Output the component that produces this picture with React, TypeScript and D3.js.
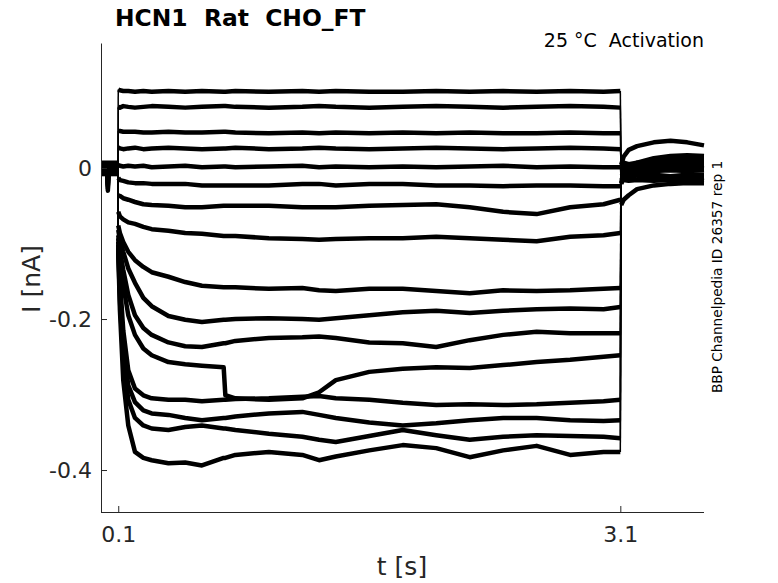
import * as React from 'react';
import { useEffect, useRef } from 'react';
import * as d3 from 'd3';

// time bases [s]
const preT = [0, 0.034, 0.038, 0.042, 0.099];
const stepT = [0.1, 0.11, 0.13, 0.16, 0.2, 0.25, 0.3, 0.4, 0.5, 0.6, 0.73, 0.74, 0.8, 1.0, 1.2, 1.3, 1.4, 1.6, 1.8, 2.0, 2.2, 2.4, 2.6, 2.8, 3.0, 3.1];
const tailT = [3.105, 3.12, 3.15, 3.2, 3.3, 3.4, 3.5, 3.6];

// holding current and capacitive artifact before the step [nA]
const holdI = [0.004, -0.002, 0.006, -0.006, 0.001, -0.004, 0.007, -0.008, 0.003, -0.001, 0.005, -0.005, 0.002, -0.003, 0.006, -0.007];
const artifactI = [-0.030, -0.020, -0.010, -0.024, 0.001, -0.016, 0.007, -0.008, -0.027, -0.001, 0.005, -0.005, -0.022, -0.003, 0.006, -0.007];

// current during the voltage step [nA], one row per sweep
const stepI: number[][] = [
  [0.104, 0.103, 0.102, 0.102, 0.101, 0.102, 0.101, 0.102, 0.101, 0.102, 0.101, 0.101, 0.102, 0.101, 0.102, 0.101, 0.102, 0.101, 0.101, 0.102, 0.101, 0.102, 0.101, 0.102, 0.101, 0.102],
  [0.081, 0.080, 0.082, 0.081, 0.080, 0.081, 0.082, 0.081, 0.080, 0.081, 0.082, 0.082, 0.081, 0.080, 0.081, 0.082, 0.081, 0.080, 0.081, 0.082, 0.081, 0.080, 0.081, 0.082, 0.081, 0.080],
  [0.049, 0.049, 0.048, 0.048, 0.048, 0.047, 0.047, 0.048, 0.047, 0.047, 0.048, 0.048, 0.047, 0.046, 0.047, 0.046, 0.047, 0.046, 0.047, 0.046, 0.047, 0.046, 0.046, 0.047, 0.046, 0.046],
  [0.027, 0.026, 0.025, 0.026, 0.027, 0.025, 0.026, 0.027, 0.026, 0.025, 0.026, 0.026, 0.027, 0.025, 0.026, 0.027, 0.026, 0.025, 0.026, 0.027, 0.026, 0.025, 0.026, 0.027, 0.026, 0.025],
  [0.004, 0.003, 0.002, 0.003, 0.002, 0.003, 0.001, 0.002, 0.003, 0.001, 0.002, 0.002, 0.001, 0.002, 0.003, 0.001, 0.002, 0.001, 0.002, 0.001, 0.002, 0.003, 0.001, 0.002, 0.001, 0.001],
  [-0.013, -0.016, -0.017, -0.019, -0.020, -0.020, -0.021, -0.021, -0.021, -0.023, -0.023, -0.023, -0.023, -0.023, -0.021, -0.021, -0.023, -0.021, -0.021, -0.023, -0.023, -0.024, -0.023, -0.023, -0.024, -0.024],
  [-0.036, -0.037, -0.040, -0.042, -0.045, -0.048, -0.049, -0.050, -0.052, -0.052, -0.050, -0.050, -0.050, -0.050, -0.052, -0.052, -0.052, -0.050, -0.049, -0.048, -0.052, -0.058, -0.061, -0.052, -0.048, -0.042],
  [-0.058, -0.064, -0.068, -0.072, -0.074, -0.078, -0.081, -0.083, -0.086, -0.087, -0.090, -0.090, -0.090, -0.093, -0.094, -0.095, -0.094, -0.093, -0.093, -0.091, -0.093, -0.095, -0.097, -0.091, -0.089, -0.086],
  [-0.076, -0.086, -0.098, -0.111, -0.122, -0.131, -0.138, -0.144, -0.151, -0.156, -0.158, -0.158, -0.158, -0.160, -0.159, -0.162, -0.163, -0.160, -0.160, -0.163, -0.166, -0.162, -0.163, -0.162, -0.160, -0.159],
  [-0.082, -0.095, -0.111, -0.133, -0.152, -0.172, -0.183, -0.196, -0.201, -0.204, -0.201, -0.201, -0.200, -0.199, -0.200, -0.201, -0.199, -0.195, -0.191, -0.189, -0.192, -0.189, -0.187, -0.186, -0.187, -0.184],
  [-0.089, -0.109, -0.135, -0.168, -0.195, -0.212, -0.221, -0.231, -0.236, -0.237, -0.232, -0.232, -0.229, -0.225, -0.224, -0.223, -0.225, -0.231, -0.232, -0.237, -0.228, -0.221, -0.217, -0.219, -0.219, -0.219],
  [-0.093, -0.119, -0.155, -0.195, -0.221, -0.239, -0.248, -0.257, -0.260, -0.262, -0.264, -0.301, -0.305, -0.307, -0.305, -0.297, -0.281, -0.270, -0.266, -0.264, -0.265, -0.261, -0.257, -0.254, -0.250, -0.248],
  [-0.098, -0.148, -0.215, -0.268, -0.292, -0.301, -0.305, -0.307, -0.307, -0.309, -0.307, -0.307, -0.306, -0.305, -0.303, -0.302, -0.305, -0.307, -0.311, -0.314, -0.313, -0.314, -0.313, -0.311, -0.309, -0.307],
  [-0.102, -0.162, -0.235, -0.288, -0.310, -0.321, -0.325, -0.327, -0.331, -0.334, -0.331, -0.331, -0.329, -0.325, -0.323, -0.327, -0.331, -0.337, -0.341, -0.338, -0.334, -0.331, -0.331, -0.334, -0.335, -0.334],
  [-0.106, -0.175, -0.254, -0.307, -0.331, -0.341, -0.345, -0.347, -0.343, -0.341, -0.345, -0.345, -0.347, -0.352, -0.356, -0.360, -0.363, -0.355, -0.347, -0.354, -0.360, -0.356, -0.354, -0.355, -0.356, -0.358],
  [-0.109, -0.188, -0.281, -0.341, -0.376, -0.384, -0.387, -0.391, -0.390, -0.394, -0.384, -0.384, -0.380, -0.376, -0.380, -0.387, -0.382, -0.374, -0.367, -0.371, -0.383, -0.374, -0.368, -0.380, -0.376, -0.376],
];

// tail current after the step [nA]
const tailI: number[][] = [
  [-0.005, -0.005, -0.004, -0.004, -0.004, -0.003, -0.004, -0.003],
  [0.003, 0.003, 0.003, 0.004, 0.003, 0.004, 0.003, 0.004],
  [-0.009, -0.009, -0.011, -0.009, -0.009, -0.011, -0.009, -0.009],
  [0.007, 0.007, 0.005, 0.007, 0.007, 0.005, 0.007, 0.007],
  [-0.013, -0.013, -0.013, -0.015, -0.013, -0.013, -0.015, -0.013],
  [0.000, 0.000, -0.001, 0.000, -0.001, 0.000, 0.000, -0.001],
  [-0.049, -0.042, -0.036, -0.028, -0.023, -0.021, -0.020, -0.020],
  [-0.016, -0.016, -0.017, -0.016, -0.017, -0.016, -0.017, -0.016],
  [-0.011, -0.008, -0.005, -0.003, 0.000, 0.001, 0.003, 0.003],
  [-0.013, -0.011, -0.007, -0.003, 0.001, 0.003, 0.004, 0.004],
  [-0.016, -0.012, -0.008, -0.003, 0.003, 0.005, 0.007, 0.007],
  [-0.017, -0.013, -0.008, -0.001, 0.004, 0.008, 0.009, 0.009],
  [-0.019, -0.013, -0.007, 0.001, 0.007, 0.011, 0.012, 0.012],
  [-0.020, -0.013, -0.005, 0.003, 0.008, 0.012, 0.013, 0.013],
  [-0.021, -0.013, -0.003, 0.007, 0.013, 0.016, 0.017, 0.016],
  [0.004, 0.015, 0.024, 0.029, 0.034, 0.036, 0.034, 0.030],
];

const xTicks = [0.1, 3.1];
const yTicks = [-0.4, -0.2, 0];

const W = 778;
const H = 583;
const FONT = "'DejaVu Sans', sans-serif";
const AXIS = '#262626';

type Seg = { t: number[]; v: number[] };

const App: React.FC = () => {
  const svgRef = useRef<SVGSVGElement>(null);

  useEffect(() => {
    const svg = d3.select(svgRef.current);
    svg.selectAll('*').remove();

    const x = d3.scaleLinear().domain([0, 3.6]).range([101.5, 704]);
    const y = d3.scaleLinear().domain([-0.4556, 0.1656]).range([512, 43]);

    const line = (s: Seg) =>
      d3.line<number>()
        .x((_, k) => x(s.t[k]))
        .y(d => y(d))(s.v) ?? '';

    // noisy plateaus drawn heavy, the jumps between them thin
    const heavy: Seg[] = [];
    const jumps: Seg[] = [];
    stepI.forEach((s, i) => {
      const pre = [holdI[i], holdI[i], artifactI[i], holdI[i], holdI[i]];
      heavy.push({ t: preT, v: pre });
      heavy.push({ t: stepT, v: s });
      heavy.push({ t: tailT, v: tailI[i] });
      jumps.push({ t: [preT[preT.length - 1], stepT[0]], v: [holdI[i], s[0]] });
      jumps.push({ t: [stepT[stepT.length - 1], tailT[0]], v: [s[s.length - 1], tailI[i][0]] });
    });

    const traces = svg.append('g');
    traces.selectAll('path.jump')
      .data(jumps)
      .enter().append('path')
      .attr('class', 'jump')
      .attr('fill', 'none')
      .attr('stroke', '#000')
      .attr('stroke-width', 1.5)
      .attr('d', line);

    traces.selectAll('path.trace')
      .data(heavy)
      .enter().append('path')
      .attr('class', 'trace')
      .attr('fill', 'none')
      .attr('stroke', '#000')
      .attr('stroke-width', 4.5)
      .attr('stroke-linejoin', 'round')
      .attr('d', line);

    // x axis
    const gx = svg.append('g')
      .attr('transform', `translate(0,512)`)
      .call(d3.axisBottom(x).tickValues(xTicks).tickSizeInner(-6).tickSizeOuter(0).tickPadding(14).tickFormat(d => String(d)));
    gx.select('.domain').attr('d', 'M101,0.5H704');

    // y axis
    svg.append('g')
      .attr('transform', `translate(101,0)`)
      .call(d3.axisLeft(y).tickValues(yTicks).tickSizeInner(-6).tickSizeOuter(0).tickPadding(9).tickFormat(d => String(d)));

    svg.selectAll('.domain, .tick line').attr('stroke', AXIS).attr('stroke-width', 1);
    svg.selectAll('.tick text')
      .attr('fill', AXIS)
      .style('font-family', FONT)
      .style('font-size', '22px');

    // titles and labels
    svg.append('text')
      .attr('x', 115).attr('y', 26)
      .style('font-family', FONT).style('font-size', '23.4px').style('font-weight', 'bold')
      .style('white-space', 'pre')
      .attr('fill', '#000')
      .text('HCN1  Rat  CHO_FT');

    svg.append('text')
      .attr('x', 704).attr('y', 47)
      .attr('text-anchor', 'end')
      .style('font-family', FONT).style('font-size', '19px')
      .style('white-space', 'pre')
      .attr('fill', '#000')
      .text('25 °C  Activation');

    svg.append('text')
      .attr('transform', 'translate(402,575)')
      .attr('text-anchor', 'middle')
      .style('font-family', FONT).style('font-size', '25px')
      .attr('fill', AXIS)
      .text('t [s]');

    svg.append('text')
      .attr('transform', 'translate(40,279) rotate(-90)')
      .attr('text-anchor', 'middle')
      .style('font-family', FONT).style('font-size', '25px')
      .attr('fill', AXIS)
      .text('I [nA]');

    svg.append('text')
      .attr('transform', 'translate(722,277) rotate(-90)')
      .attr('text-anchor', 'middle')
      .style('font-family', FONT).style('font-size', '13.7px')
      .attr('fill', '#000')
      .text('BBP Channelpedia ID 26357 rep 1');
  }, []);

  return (
    <svg ref={svgRef} width={W} height={H}
      style={{ position: 'absolute', left: 0, top: 0, background: '#fff' }} />
  );
};

export default App;
